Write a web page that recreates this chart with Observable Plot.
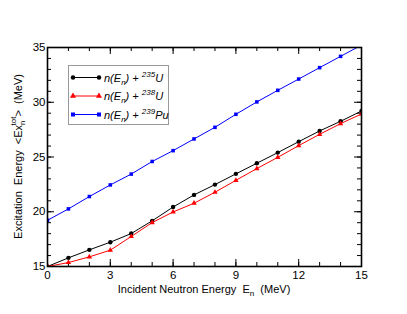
<!DOCTYPE html>
<html><head><meta charset="utf-8">
<script src="https://cdn.jsdelivr.net/npm/d3@7"></script>
<script src="https://cdn.jsdelivr.net/npm/@observablehq/plot@0.6"></script>
<style>body{margin:0;background:#fff;} svg{font-family:"Liberation Sans",Arial,sans-serif;}</style>
</head><body><div id="chart"></div>
<script>
const energy = [0,1,2,3,4,5,6,7,8,9,10,11,12,13,14,15];
const u235 = [15.0,15.79,16.52,17.22,18.01,19.17,20.43,21.54,22.48,23.46,24.43,25.40,26.40,27.38,28.26,29.20];
const u238 = [15.0,15.36,15.88,16.49,17.74,19.01,19.98,20.78,21.78,22.87,23.94,24.97,26.04,27.07,28.05,28.93];
const pu239 = [19.22,20.26,21.39,22.45,23.44,24.59,25.58,26.65,27.71,28.90,30.03,31.09,32.12,33.16,34.19,35.22];
const seriesNames = ["235", "238", "239"];
const seriesNuclei = ["U", "U", "Pu"];
const seriesColors = ["#000000", "#ff0000", "#0000ff"];
const seriesSymbols = ["circle", "triangle", "square"];
const xMajor = [0,3,6,9,12,15];
const xMinor = d3.range(0,16,1);
const yMajor = [15,20,25,30,35];
const yMinor = d3.range(15,36,1);

const W = 407, H = 314, mL = 47, mR = 46, mT = 47, mB = 48;
const pxX = (W - mL - mR) / 15, pxY = (H - mT - mB) / 20;
const rows = [];
[u235, u238, pu239].forEach((arr, s) => arr.forEach((v, i) => rows.push({x: energy[i], y: v, s})));

const majL = 7, minL = 4;
const xt = (vals, len) => [
  Plot.ruleX(vals, {x: d => d, y1: 15, y2: 15 + len / pxY, stroke: "#000", strokeWidth: 1}),
  Plot.ruleX(vals, {x: d => d, y1: 35, y2: 35 - len / pxY, stroke: "#000", strokeWidth: 1})
];
const yt = (vals, len) => [
  Plot.ruleY(vals, {y: d => d, x1: 0, x2: len / pxX, stroke: "#000", strokeWidth: 1}),
  Plot.ruleY(vals, {y: d => d, x1: 15, x2: 15 - len / pxX, stroke: "#000", strokeWidth: 1})
];

const dotR = [2.2, 2.0, 2.0];
const marks = [];
[0,1,2].forEach(s => {
  const d = rows.filter(r => r.s === s);
  marks.push(Plot.line(d, {x: "x", y: "y", stroke: seriesColors[s], strokeWidth: 1, clip: true}));
  marks.push(Plot.dot(d, {x: "x", y: "y", fill: seriesColors[s], stroke: "none", symbol: seriesSymbols[s], r: dotR[s], clip: true}));
});

const svg = Plot.plot({
  width: W, height: H,
  marginLeft: mL, marginRight: mR, marginTop: mT, marginBottom: mB,
  style: {fontFamily: '"Liberation Sans", Arial, sans-serif', fontSize: "11.5px", color: "#000", background: "#fff"},
  x: {domain: [0, 15]},
  y: {domain: [15, 35]},
  marks: [
    ...xt(xMinor, minL), ...xt(xMajor, majL),
    ...yt(yMinor, minL), ...yt(yMajor, majL),
    ...marks,
    Plot.axisX(xMajor, {tickSize: 0, tickPadding: 4, label: null, fontSize: 11.5}),
    Plot.axisY(yMajor, {tickSize: 0, tickPadding: 2, label: null, fontSize: 11.5}),
    Plot.frame({stroke: "#000", strokeWidth: 1.6})
  ]
});
document.getElementById("chart").append(svg);

const g = d3.select(svg);
const ff = '"Liberation Sans", Arial, sans-serif';
// x label
const xl = g.append("text").attr("x", (mL + W - mR) / 2).attr("y", 293).attr("text-anchor", "middle")
  .attr("font-size", 11).attr("font-family", ff).attr("fill", "#000");
xl.append("tspan").text("Incident Neutron Energy  E");
xl.append("tspan").attr("font-size", 8).attr("dy", 3).text("n");
xl.append("tspan").attr("dy", -3).text("  (MeV)");
// y label
const yl = g.append("text").attr("transform", `translate(22,${(mT + H - mB) / 2}) rotate(-90)`).attr("text-anchor", "middle")
  .attr("font-size", 11).attr("font-family", ff).attr("fill", "#000");
yl.append("tspan").text("Excitation  Energy  <Ex");
yl.append("tspan").attr("font-size", 8).attr("dy", 3).text("n");
yl.append("tspan").attr("font-size", 8).attr("dx", -5).attr("dy", -9).text("tot");
yl.append("tspan").attr("dy", 6).text(">  (MeV)");

// legend
const lg = g.append("g");
lg.append("rect").attr("x", 68.5).attr("y", 65.5).attr("width", 100).attr("height", 59)
  .attr("fill", "#fff").attr("stroke", "#999").attr("stroke-width", 1);
const sym = d3.symbol().size(16);
const symTypes = [d3.symbolCircle, d3.symbolTriangle, d3.symbolSquare];
[0,1,2].forEach(s => {
  const y = 77.5 + s * 18.5;
  lg.append("line").attr("x1", 73).attr("x2", 99).attr("y1", y).attr("y2", y).attr("stroke", seriesColors[s]).attr("stroke-width", 1);
  [73, 99].forEach(x => lg.append("path").attr("d", sym.type(symTypes[s])()).attr("transform", `translate(${x},${y})`).attr("fill", seriesColors[s]));
  const t = lg.append("text").attr("x", 104).attr("y", y + 4).attr("text-anchor", "start").attr("font-size", 11).attr("font-style", "italic").attr("font-family", ff).attr("fill", "#000");
  t.append("tspan").text("n(E");
  t.append("tspan").attr("font-size", 8).attr("dy", 3).text("n");
  t.append("tspan").attr("dy", -3).text(") + ");
  t.append("tspan").attr("font-size", 8).attr("dy", -5).text(seriesNames[s]);
  t.append("tspan").attr("dy", 5).text(seriesNuclei[s]);
});
</script></body></html>
